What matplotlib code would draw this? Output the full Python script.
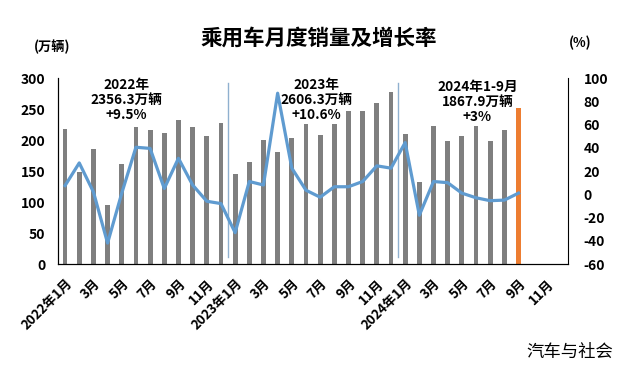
import numpy as np
import matplotlib.pyplot as plt

plt.rcParams['font.family'] = ['Noto Sans CJK SC', 'DejaVu Sans']
plt.rcParams['axes.unicode_minus'] = False

# monthly sales (万辆), 2022-01 .. 2024-09
sales = [218, 148, 186, 95, 162, 221, 216, 212, 233, 221, 207, 227,
         145, 165, 200, 181, 204, 226, 208, 226, 247, 247, 260, 278,
         210, 133, 223, 199, 207, 222, 199, 216, 252]
# year-on-year growth (%)
growth = [7.5, 27, 2, -42, 1, 40.5, 39.5, 5, 31, 8, -6, -8,
          -33, 11, 8, 87, 22.5, 3.5, -2.5, 6.5, 6.5, 11, 24.5, 22.5,
          44.5, -18, 11, 10, 1, -3, -5.5, -5, 1]
n_slots = 36
tick_idx = list(range(0, n_slots, 2))
tick_labels = ['2022年1月', '3月', '5月', '7月', '9月', '11月',
               '2023年1月', '3月', '5月', '7月', '9月', '11月',
               '2024年1月', '3月', '5月', '7月', '9月', '11月']
notes = ['2022年\n2356.3万辆\n+9.5%', '2023年\n2606.3万辆\n+10.6%',
         '2024年1-9月\n1867.9万辆\n+3%']
note_x = [4.35, 17.75, 29.1]
note_top = [300, 300, 297]

fig = plt.figure(figsize=(6.25, 3.65), dpi=100)
ax = fig.add_axes([0.0928, 0.2767, 0.8162, 0.5093])
x = np.arange(len(sales))
colors = ['#7f7f7f'] * (len(sales) - 1) + ['#ed7d31']
ax.bar(x, sales, width=0.34, color=colors, zorder=2)
ax.set_xlim(-0.5, n_slots - 0.5)
ax.set_ylim(0, 300)
ax.set_yticks(range(0, 301, 50))
ax.set_xticks(tick_idx)
ax.set_xticklabels(tick_labels, rotation=45, ha='right', rotation_mode='anchor')
ax.tick_params(axis='y', length=0, labelsize=10, pad=9)
ax.tick_params(axis='x', length=0, labelsize=9.5, pad=9)
for lbl in ax.get_xticklabels() + ax.get_yticklabels():
    lbl.set_fontweight('bold')
for sp in ['top', 'right']:
    ax.spines[sp].set_visible(False)

# year dividers
for xd in [11.5, 23.5]:
    ax.plot([xd, xd], [11, 292], color='#8fb0cf', lw=1.0, zorder=1)

ax2 = ax.twinx()
ax2.plot(x, growth, color='#5f9bd0', lw=2.3, zorder=3)
ax2.set_ylim(-60, 100)
ax2.set_yticks(range(-60, 101, 20))
ax2.tick_params(length=0, labelsize=10, pad=11)
for lbl in ax2.get_yticklabels():
    lbl.set_fontweight('bold')
ax2.spines['top'].set_visible(False)

for nx, ny, t in zip(note_x, note_top, notes):
    ax.text(nx, ny, t, ha='center', va='top', fontsize=9.8,
            fontweight='bold', linespacing=1.1, zorder=4)

fig.text(0.51, 0.895, '乘用车月度销量及增长率', ha='center', va='center',
         fontsize=15.5, fontweight='bold')
fig.text(0.083, 0.872, '(万辆)', ha='center', va='center', fontsize=9.5,
         fontweight='bold')
fig.text(0.928, 0.882, '(%)', ha='center', va='center', fontsize=9.5,
         fontweight='bold')
fig.text(0.912, 0.035, '汽车与社会', ha='center', va='center', fontsize=12.5)

fig.savefig('out.png', dpi=100)
